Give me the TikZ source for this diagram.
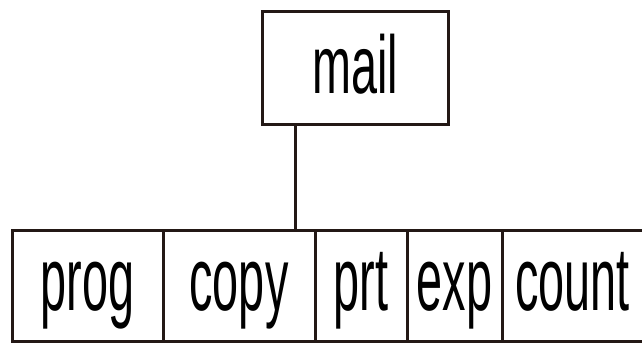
\documentclass[tikz,border=0pt]{standalone}
\usepackage{fontspec}
\setmainfont{Liberation Sans}
\definecolor{edge}{HTML}{231815}
\newcommand{\bigtxt}[1]{\scalebox{0.52}[1]{\fontsize{90}{90}\selectfont #1}}
\newcommand{\mailtxt}[1]{\scalebox{0.57}[1]{\fontsize{82}{82}\selectfont #1}}
\begin{document}
\begin{tikzpicture}[x=1pt,y=-1pt,
  box/.style={draw=edge, line width=3pt, rectangle, inner sep=0pt, outer sep=0pt,
              text=black, text depth=0pt},
  cell/.style={box, minimum height=111pt, text height=49pt},
  link/.style={draw=edge, line width=3pt}]
\useasboundingbox (0,0) rectangle (642,343);
\fill[white] (0,0) rectangle (642,343);
\node[box, minimum width=186pt, minimum height=113pt, text height=51pt] (mail) at (355,67.5) {\mailtxt{mail}};
\node[cell, minimum width=151pt] (prog) at (87.5,285.5) {\bigtxt{prog}};
\node[cell, minimum width=152pt] (copy) at (239,285.5) {\bigtxt{copy}};
\node[cell, minimum width=92pt] (prt) at (361,285.5) {\bigtxt{prt}};
\node[cell, minimum width=95pt] (exp) at (454.5,285.5) {\bigtxt{exp}};
\node[cell, minimum width=141pt] (count) at (572.5,285.5) {\bigtxt{count}};
\coordinate (j) at (295,124);
\draw[link] (mail.south -| j) -- (copy.north -| j);
\end{tikzpicture}
\end{document}
